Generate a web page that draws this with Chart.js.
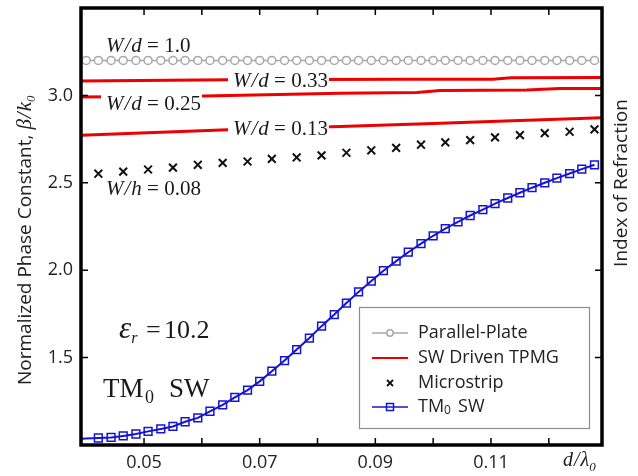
<!DOCTYPE html>
<html>
<head>
<meta charset="utf-8">
<script src="https://cdn.jsdelivr.net/npm/chart.js@4.4.1/dist/chart.umd.min.js"></script>
<style>
    html, body { margin: 0; padding: 0; background: #ffffff; }
</style>
</head>
<body>
<canvas id="lineChart" width="638" height="476"></canvas>
<script>
// valores (d/lambda0 no eixo x, beta/k0 no eixo y)
var xGrid = [0.0400, 0.0421, 0.0443, 0.0464, 0.0486, 0.0507, 0.0529, 0.0550, 0.0571, 0.0593,
    0.0614, 0.0636, 0.0657, 0.0679, 0.0700, 0.0721, 0.0743, 0.0764, 0.0786, 0.0807,
    0.0829, 0.0850, 0.0871, 0.0893, 0.0914, 0.0936, 0.0957, 0.0979, 0.1000, 0.1021,
    0.1043, 0.1064, 0.1086, 0.1107, 0.1129, 0.1150, 0.1171, 0.1193, 0.1214, 0.1236,
    0.1257, 0.1279];
var parallelPlate = [3.2, 3.2, 3.2, 3.2, 3.2, 3.2, 3.2, 3.2, 3.2, 3.2,
    3.2, 3.2, 3.2, 3.2, 3.2, 3.2, 3.2, 3.2, 3.2, 3.2,
    3.2, 3.2, 3.2, 3.2, 3.2, 3.2, 3.2, 3.2, 3.2, 3.2,
    3.2, 3.2, 3.2, 3.2, 3.2, 3.2, 3.2, 3.2, 3.2, 3.2,
    3.2, 3.2];

var tm0X = [0.0379, 0.0400, 0.0421, 0.0443, 0.0464, 0.0486, 0.0507, 0.0529, 0.0550, 0.0571, 0.0593,
    0.0614, 0.0636, 0.0657, 0.0679, 0.0700, 0.0721, 0.0743, 0.0764, 0.0786, 0.0807,
    0.0829, 0.0850, 0.0871, 0.0893, 0.0914, 0.0936, 0.0957, 0.0979, 0.1000, 0.1021,
    0.1043, 0.1064, 0.1086, 0.1107, 0.1129, 0.1150, 0.1171, 0.1193, 0.1214, 0.1236,
    0.1257, 0.1279];
var tm0SW = [1.034, 1.037, 1.040, 1.043, 1.052, 1.063, 1.078, 1.092, 1.106, 1.133, 1.155,
    1.193, 1.230, 1.272, 1.314, 1.364, 1.422, 1.483, 1.546, 1.612, 1.680,
    1.746, 1.812, 1.876, 1.938, 1.997, 2.052, 2.103, 2.152, 2.197, 2.238,
    2.277, 2.313, 2.347, 2.381, 2.413, 2.443, 2.472, 2.500, 2.527, 2.553,
    2.578, 2.603];

var microX = [0.0421, 0.0464, 0.0507, 0.0550, 0.0593, 0.0636, 0.0679, 0.0721, 0.0764, 0.0807,
    0.0850, 0.0893, 0.0936, 0.0979, 0.1021, 0.1064, 0.1107, 0.1150, 0.1193, 0.1236, 0.1279];
var microstrip = [2.552, 2.564, 2.576, 2.587, 2.603, 2.614, 2.622, 2.637, 2.645, 2.657,
    2.672, 2.686, 2.700, 2.718, 2.731, 2.744, 2.760, 2.773, 2.784, 2.792, 2.806];

// SW Driven TPMG, W/d = 0.33, 0.25 e 0.13
var tpmg33X = [0.0380, 0.0645, 0.0800, 0.0950, 0.1103, 0.1135, 0.1300];
var tpmg33 = [3.082, 3.090, 3.091, 3.092, 3.093, 3.101, 3.102];
var tpmg25X = [0.0380, 0.0604, 0.0839, 0.0972, 0.1012, 0.1162, 0.1219, 0.1300];
var tpmg25 = [2.990, 2.996, 3.013, 3.016, 3.028, 3.031, 3.039, 3.040];
var tpmg13X = [0.0380, 0.0645, 0.0839, 0.1000, 0.1150, 0.1300];
var tpmg13 = [2.770, 2.804, 2.822, 2.839, 2.856, 2.873];

var xTicks = [0.05, 0.06, 0.07, 0.08, 0.09, 0.10, 0.11, 0.12];
var xTickLabels = ['0.05', '', '0.07', '', '0.09', '', '0.11', ''];
var yTicks = [1.5, 2.0, 2.5, 3.0];
var yTickLabels = ['1.5', '2.0', '2.5', '3.0'];

var SANS = '"Open Sans", "DejaVu Sans", sans-serif';
var SERIF = '"Liberation Serif", "Times New Roman", serif';

function pares(xs, ys) {
    return xs.map(function (x, i) { return { x: x, y: ys[i] }; });
}

window.onload = function () {
    graficoLinha();
}

// desenha pedaços de texto em sequência, cada um com sua fonte
function textoRico(ctx, x, y, partes) {
    partes.forEach(function (p) {
        ctx.font = p.f;
        ctx.fillText(p.t, x, y + (p.dy || 0));
        x += ctx.measureText(p.t).width + (p.gap || 0);
    });
    return x;
}

function larguraRica(ctx, partes) {
    var w = 0;
    partes.forEach(function (p) {
        ctx.font = p.f;
        w += ctx.measureText(p.t).width + (p.gap || 0);
    });
    return w;
}

function rotuloW(ctx, x, y, letra, valor, fundo) {
    var it = 'italic 21px ' + SERIF, rg = '21px ' + SERIF;
    var partes = [
        { t: 'W', f: it, gap: 1 },
        { t: '/', f: it, gap: 1 },
        { t: letra, f: it },
        { t: ' = ' + valor, f: rg }
    ];
    if (fundo) {
        var w = larguraRica(ctx, partes);
        ctx.fillStyle = '#ffffff';
        ctx.fillRect(x - 5, y - 17, w + 6, 22);
    }
    ctx.fillStyle = '#1a1a1a';
    textoRico(ctx, x, y, partes);
}

var moldura = {
    id: 'moldura',
    afterDatasetsDraw: function (chart) {
        var ctx = chart.ctx, a = chart.chartArea;
        var xs = chart.scales.x, ys = chart.scales.y;
        ctx.save();
        ctx.textBaseline = 'alphabetic';
        ctx.textAlign = 'left';

        // rótulos das curvas
        rotuloW(ctx, 106, 52, 'd', '1.0', false);
        rotuloW(ctx, 233, 87, 'd', '0.33', true);
        rotuloW(ctx, 106, 110, 'd', '0.25', true);
        rotuloW(ctx, 233, 135, 'd', '0.13', true);
        rotuloW(ctx, 106, 195, 'h', '0.08', false);

        ctx.fillStyle = '#1a1a1a';
        ctx.font = 'italic 31px ' + SERIF;
        ctx.fillText('\u03b5', 119, 338);
        var we = ctx.measureText('\u03b5').width;
        ctx.font = 'italic 16px ' + SERIF;
        ctx.fillText('r', 119 + we, 343);
        ctx.font = '26px ' + SERIF;
        ctx.fillText('=', 146, 338);
        ctx.fillText('10.2', 164, 338);

        ctx.font = '27px ' + SERIF;
        ctx.fillText('TM', 103, 397);
        ctx.font = '18px ' + SERIF;
        ctx.fillText('0', 145, 403);
        ctx.font = '27px ' + SERIF;
        ctx.fillText('SW', 169, 397);

        // legenda
        var ds = chart.data.datasets;
        ctx.fillStyle = '#ffffff';
        ctx.fillRect(359, 307, 231, 121);
        ctx.strokeStyle = '#8c8c8c';
        ctx.lineWidth = 1.2;
        ctx.strokeRect(359.5, 307.5, 230, 121);
        var linhas = [333, 358, 383, 407];
        // Parallel-Plate
        ctx.strokeStyle = ds[0].borderColor;
        ctx.lineWidth = 1.5;
        ctx.beginPath(); ctx.moveTo(372, linhas[0]); ctx.lineTo(408, linhas[0]); ctx.stroke();
        ctx.fillStyle = '#ffffff';
        ctx.beginPath(); ctx.arc(390, linhas[0], 3.2, 0, Math.PI * 2); ctx.fill(); ctx.stroke();
        // SW Driven TPMG
        ctx.strokeStyle = ds[1].borderColor;
        ctx.lineWidth = 2;
        ctx.beginPath(); ctx.moveTo(372, linhas[1]); ctx.lineTo(408, linhas[1]); ctx.stroke();
        // Microstrip
        ctx.strokeStyle = ds[4].borderColor;
        ctx.lineWidth = 1.8;
        ctx.beginPath();
        ctx.moveTo(387, linhas[2] - 3); ctx.lineTo(393, linhas[2] + 3);
        ctx.moveTo(393, linhas[2] - 3); ctx.lineTo(387, linhas[2] + 3);
        ctx.stroke();
        // TM0 SW
        ctx.strokeStyle = ds[5].borderColor;
        ctx.lineWidth = 1.5;
        ctx.beginPath(); ctx.moveTo(372, linhas[3]); ctx.lineTo(408, linhas[3]); ctx.stroke();
        ctx.strokeRect(386.5, linhas[3] - 3.5, 7, 7);

        ctx.fillStyle = '#222222';
        ctx.textBaseline = 'middle';
        ctx.font = '18px ' + SANS;
        ctx.fillText('Parallel-Plate', 418, linhas[0]);
        ctx.fillText('SW Driven TPMG', 418, linhas[1]);
        ctx.fillText('Microstrip', 418, linhas[2]);
        var xt = textoRico(ctx, 418, linhas[3], [{ t: 'TM', f: '18px ' + SANS }]);
        ctx.font = '12px ' + SANS;
        ctx.fillText('0', xt, linhas[3] + 4);
        ctx.font = '18px ' + SANS;
        ctx.fillText(' SW', xt + ctx.measureText('0').width - 1, linhas[3]);

        // marcas dos eixos, para dentro
        ctx.strokeStyle = '#000000';
        ctx.lineWidth = 1.5;
        ctx.beginPath();
        xs.ticks.forEach(function (t) {
            var px = xs.getPixelForValue(t.value);
            ctx.moveTo(px, a.bottom); ctx.lineTo(px, a.bottom - 7);
            ctx.moveTo(px, a.top); ctx.lineTo(px, a.top + 7);
        });
        ys.ticks.forEach(function (t) {
            var py = ys.getPixelForValue(t.value);
            ctx.moveTo(a.left, py); ctx.lineTo(a.left + 7, py);
            ctx.moveTo(a.right, py); ctx.lineTo(a.right - 7, py);
        });
        ctx.stroke();
        ctx.lineWidth = 3.5;
        ctx.strokeRect(a.left, a.top, a.right - a.left, a.bottom - a.top);

        // títulos dos eixos
        ctx.textBaseline = 'alphabetic';
        ctx.fillStyle = '#222222';
        ctx.save();
        ctx.translate(24, 385);
        ctx.rotate(-Math.PI / 2);
        var xk = textoRico(ctx, 0, 7, [
            { t: 'Normalized Phase Constant, ', f: '19px ' + SANS },
            { t: '\u03b2', f: 'italic 21px ' + SERIF, gap: 1 },
            { t: '/', f: 'italic 21px ' + SERIF, gap: 1 },
            { t: 'k', f: 'italic 21px ' + SERIF }
        ]);
        ctx.font = 'italic 13px ' + SERIF;
        ctx.fillText('0', xk, 11);
        ctx.restore();

        ctx.save();
        ctx.translate(627, 183);
        ctx.rotate(-Math.PI / 2);
        ctx.font = '19px ' + SANS;
        ctx.textAlign = 'center';
        ctx.fillText('Index of Refraction', 0, 0);
        ctx.restore();

        ctx.fillStyle = '#1a1a1a';
        textoRico(ctx, 563, 466, [
            { t: 'd', f: 'italic 20px ' + SERIF, gap: 1 },
            { t: '/', f: 'italic 20px ' + SERIF, gap: 1 },
            { t: '\u03bb', f: 'italic 20px ' + SERIF },
            { t: '0', f: 'italic 13px ' + SERIF, dy: 5 }
        ]);
        ctx.restore();
    }
};

// Função para renderizar o gráfico usando Chart.js
function graficoLinha() {
    var ctx = document.getElementById("lineChart").getContext("2d");
    var myChart = new Chart(ctx, {
        type: "line",
        data: {
            datasets: [
                {
                    label: 'Parallel-Plate',
                    data: pares(xGrid, parallelPlate),
                    borderColor: '#a8a8a8',
                    backgroundColor: '#ffffff',
                    borderWidth: 1.5,
                    pointStyle: 'circle',
                    pointRadius: 4,
                    pointBorderWidth: 1.5,
                    clip: 0
                },
                {
                    label: 'SW Driven TPMG',
                    data: pares(tpmg33X, tpmg33),
                    borderColor: '#ee0000',
                    borderWidth: 3,
                    pointRadius: 0,
                    clip: 0
                },
                {
                    label: 'SW Driven TPMG 0.25',
                    data: pares(tpmg25X, tpmg25),
                    borderColor: '#ee0000',
                    borderWidth: 3,
                    pointRadius: 0,
                    clip: 0
                },
                {
                    label: 'SW Driven TPMG 0.13',
                    data: pares(tpmg13X, tpmg13),
                    borderColor: '#ee0000',
                    borderWidth: 3,
                    pointRadius: 0,
                    clip: 0
                },
                {
                    label: 'Microstrip',
                    data: pares(microX, microstrip),
                    borderColor: '#111111',
                    showLine: false,
                    pointStyle: 'crossRot',
                    pointRadius: 5.5,
                    pointBorderWidth: 2
                },
                {
                    label: 'TM0 SW',
                    data: pares(tm0X, tm0SW),
                    borderColor: '#1414d2',
                    backgroundColor: 'rgba(0, 0, 0, 0)',
                    borderWidth: 2,
                    pointStyle: 'rect',
                    pointRadius: tm0X.map(function (x, i) { return i < 2 ? 0 : 5.5; }),
                    pointBorderWidth: 1.5,
                    clip: 0
                }
            ]
        },
        options: {
            responsive: false,
            animation: false,
            layout: {
                padding: { top: 8, right: 36, left: 0, bottom: 0 }
            },
            elements: {
                line: { tension: 0 }
            },
            plugins: {
                legend: { display: false },
                tooltip: { enabled: false }
            },
            scales: {
                x: {
                    type: 'linear',
                    min: 0.0391,
                    max: 0.1292,
                    afterBuildTicks: function (scale) {
                        scale.ticks = xTicks.map(function (v) { return { value: v }; });
                    },
                    afterFit: function (scale) {
                        scale.height = 31;
                        scale.paddingLeft = 0;
                        scale.paddingRight = 0;
                    },
                    ticks: {
                        autoSkip: false,
                        maxRotation: 0,
                        padding: 7,
                        color: '#222222',
                        font: { family: SANS, size: 18 },
                        callback: function (value, index) { return xTickLabels[index]; }
                    },
                    grid: { display: false, drawTicks: false },
                    border: { display: false }
                },
                y: {
                    type: 'linear',
                    min: 1.0,
                    max: 3.5,
                    afterBuildTicks: function (scale) {
                        scale.ticks = yTicks.map(function (v) { return { value: v }; });
                    },
                    afterFit: function (scale) {
                        scale.width = 81;
                        scale.paddingTop = 0;
                        scale.paddingBottom = 0;
                    },
                    ticks: {
                        padding: 8,
                        color: '#222222',
                        font: { family: SANS, size: 18 },
                        callback: function (value, index) { return yTickLabels[index]; }
                    },
                    grid: { display: false, drawTicks: false },
                    border: { display: false }
                }
            }
        },
        plugins: [moldura]
    });
}
</script>
</body>
</html>
